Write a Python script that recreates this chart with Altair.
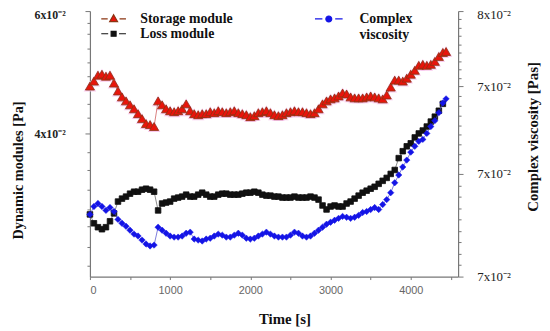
import altair as alt
import pandas as pd
import numpy as np

# ---------------- data ----------------
time_s = list(range(0, 4401, 50))

storage_mod = [4.774, 4.855, 4.952, 4.968, 4.935, 4.952, 4.823, 4.694, 4.597, 4.532,
               4.468, 4.403, 4.323, 4.242, 4.161, 4.145, 4.113, 4.532, 4.468, 4.403,
               4.371, 4.355, 4.371, 4.403, 4.484, 4.371, 4.323, 4.306, 4.323, 4.323,
               4.355, 4.339, 4.371, 4.355, 4.339, 4.355, 4.371, 4.339, 4.323, 4.306,
               4.274, 4.290, 4.339, 4.355, 4.371, 4.339, 4.306, 4.290, 4.306, 4.339,
               4.355, 4.371, 4.355, 4.355, 4.339, 4.323, 4.339, 4.403, 4.484, 4.532,
               4.565, 4.581, 4.613, 4.661, 4.645, 4.597, 4.581, 4.581, 4.581, 4.597,
               4.613, 4.597, 4.581, 4.565, 4.629, 4.758, 4.871, 4.871, 4.855, 4.903,
               4.968, 5.032, 5.113, 5.129, 5.113, 5.129, 5.177, 5.258, 5.323, 5.339]
storage_t = time_s + [4440]

loss_mod = [2.677, 2.532, 2.468, 2.435, 2.468, 2.565, 2.694, 2.887, 2.935, 2.968,
            3.016, 3.048, 3.048, 3.081, 3.097, 3.081, 3.048, 2.742, 2.855, 2.871,
            2.887, 2.935, 2.952, 2.968, 3.000, 2.968, 2.968, 3.000, 3.032, 3.000,
            2.968, 2.968, 3.000, 3.016, 3.016, 3.000, 3.000, 3.000, 3.016, 3.032,
            3.032, 3.048, 3.032, 3.000, 2.984, 2.984, 2.968, 2.968, 2.952, 2.952,
            2.952, 2.968, 2.952, 2.952, 2.952, 2.968, 2.952, 2.919, 2.823, 2.758,
            2.806, 2.823, 2.806, 2.806, 2.855, 2.887, 2.935, 2.984, 3.032, 3.065,
            3.097, 3.129, 3.177, 3.226, 3.274, 3.339, 3.403, 3.597, 3.710, 3.790,
            3.839, 3.935, 4.000, 4.048, 4.113, 4.194, 4.274, 4.371, 4.484]
loss_t = time_s

complex_visc = [6.851, 6.896, 6.913, 6.896, 6.874, 6.890, 6.868, 6.823, 6.801, 6.784,
                6.762, 6.740, 6.729, 6.706, 6.684, 6.673, 6.678, 6.779, 6.762, 6.745,
                6.729, 6.723, 6.723, 6.729, 6.745, 6.751, 6.712, 6.706, 6.701, 6.712,
                6.717, 6.729, 6.740, 6.734, 6.723, 6.723, 6.734, 6.745, 6.734, 6.717,
                6.712, 6.717, 6.729, 6.740, 6.751, 6.740, 6.729, 6.723, 6.723, 6.723,
                6.734, 6.751, 6.745, 6.729, 6.723, 6.729, 6.745, 6.762, 6.779, 6.796,
                6.807, 6.818, 6.829, 6.840, 6.835, 6.829, 6.835, 6.846, 6.862, 6.868,
                6.879, 6.890, 6.879, 6.907, 6.935, 6.974, 7.030, 7.074, 7.119, 7.158,
                7.203, 7.236, 7.264, 7.275, 7.309, 7.348, 7.381, 7.426, 7.481, 7.504]
visc_t = time_s + [4440]

series_names = ["Storage module", "Loss module", "Complex viscosity"]

x_ticks = list(range(0, 4501, 500))
left_ticks = [6.0, 5.806, 5.629, 5.387, 5.161, 4.935, 4.710, 4.484, 4.258, 4.0,
              3.694, 3.403, 3.081, 2.758, 2.484, 2.145, 1.839]
right_major = [8.0, 7.576, 7.08, 6.5]

# ---------------- table ----------------
rows = []
for name, ts, vs in [(series_names[0], storage_t, storage_mod),
                     (series_names[1], loss_t, loss_mod),
                     (series_names[2], visc_t, complex_visc)]:
    for t, v in zip(ts, vs):
        rows.append({"t": t, "v": v, "series": name})
df = pd.DataFrame(rows)

right_ticks = sorted(set(np.round(np.concatenate(
    [np.linspace(a, b, 10) for a, b in zip(right_major[:-1], right_major[1:])]), 4).tolist()))

SERIF = "Liberation Serif"
SANS = "Liberation Sans"
SUP = "x10\u207b\u00b2"

RED = "#e8140c"
RED_EDGE = "#8a3412"
BLACK = "#111111"
BLUE = "#1414e6"

TRI = "M-2.5,0H-1.2M1.2,0H2.5M0,-0.85L0.8,0.55H-0.8Z"
SQ = "M-2.5,0H-1.1M1.1,0H2.5M-0.5,-0.5H0.5V0.5H-0.5Z"
CIRC = "M-2.8,0H-1.3M1.3,0H2.8M-0.6,0A0.6,0.6 0 1,0 0.6,0A0.6,0.6 0 1,0 -0.6,0Z"

# ---------------- axes ----------------
x_axis = alt.Axis(values=x_ticks, format="d",
                  labelExpr="datum.value % 1000 == 0 ? datum.label : ''",
                  grid=False, tickSize=3, tickColor="#777", domainColor="#777",
                  domainWidth=1.2, labelFont=SANS, labelFontSize=11, labelColor="#666",
                  labelPadding=5, title="Time [s]", titleFont=SERIF, titleFontSize=15,
                  titleFontWeight="bold", titleColor="#111", titleX=197, titleY=43,
                  titleBaseline="middle", titleAlign="center")

x_enc = alt.X("t:Q", scale=alt.Scale(domain=[0, 4590], nice=False, zero=False), axis=x_axis)

left_axis = alt.Axis(values=left_ticks, grid=False,
                     labelExpr=f"datum.value == 6 ? '6{SUP}' : (datum.value == 4 ? '4{SUP}' : '')",
                     tickSize={"condition": {"test": "datum.value == 6 || datum.value == 4", "value": 5}, "value": 3},
                     labelOffset={"condition": {"test": "datum.value == 6", "value": 4}, "value": 0},
                     tickColor="#777", domainColor="#777", domainWidth=1.2,
                     labelFont=SERIF, labelFontSize=12, labelFontWeight="bold", labelColor="#222",
                     labelPadding=20,
                     title="Dynamic modules [Pa]", titleFont=SERIF, titleFontSize=14.5,
                     titleFontWeight="bold", titleColor="#111", titleAngle=270,
                     titleX=-72, titleY=161, titleAlign="center", titleBaseline="middle")

y_left = alt.Y("v:Q", scale=alt.Scale(domain=[1.661, 6.0], nice=False, zero=False), axis=left_axis)

MAJ_R = "(datum.value > 7.99 || abs(datum.value - 7.576) < 0.001 || abs(datum.value - 7.08) < 0.001 || abs(datum.value - 6.5) < 0.001)"
right_axis = alt.Axis(values=right_ticks, grid=False, orient="right",
                      labelExpr=("datum.value > 7.99 ? '8" + SUP + "' : (" + MAJ_R + " ? '7" + SUP + "' : '')"),
                      tickSize={"condition": {"test": MAJ_R, "value": 5}, "value": 3},
                      labelOffset={"condition": {"test": "datum.value > 7.99", "value": 4}, "value": 0},
                      tickColor="#777", domainColor="#777", domainWidth=1.2,
                      labelFont=SERIF, labelFontSize=13, labelColor="#222", labelPadding=14,
                      title="Complex viscosity [Pas]", titleFont=SERIF, titleFontSize=15,
                      titleFontWeight="bold", titleColor="#111", titleAngle=270,
                      titleX=75, titleY=127, titleAlign="center", titleBaseline="middle")

y_right = alt.Y("v:Q", scale=alt.Scale(domain=[6.5, 8.0], nice=False, zero=False), axis=right_axis)


def make_legend(x, y, symbol, offset, label_expr=None):
    kw = dict(title=None, orient="none", legendX=x, legendY=y, padding=0, offset=0,
              labelFont=SERIF, labelFontSize=14, labelFontWeight="bold", labelColor="#111",
              labelOffset=offset, symbolSize=100, symbolType=symbol, symbolStrokeWidth=1.2,
              symbolOpacity=1)
    if label_expr:
        kw["labelExpr"] = label_expr
    return alt.Legend(**kw)


base = alt.Chart(df)


def only(name):
    return base.transform_filter(alt.datum.series == name)


halo = only(series_names[0]).mark_point(
    shape="triangle-up", filled=True, size=160, color="#f8c4ec", opacity=0.9
).encode(x=x_enc, y=y_left)

line_st = only(series_names[0]).mark_line(strokeWidth=0.7, color="#c84848").encode(x=x_enc, y=y_left)
line_lo = only(series_names[1]).mark_line(strokeWidth=0.7, color="#555555").encode(x=x_enc, y=y_left)

pts_st = only(series_names[0]).mark_point(
    filled=True, shape="triangle-up", size=85, stroke=RED_EDGE, strokeWidth=0.8, opacity=1
).encode(x=x_enc, y=y_left,
         fill=alt.Fill("series:N", scale=alt.Scale(domain=[series_names[0]], range=[RED]),
                       legend=make_legend(17, 1, TRI, 20)))

pts_lo = only(series_names[1]).mark_point(
    filled=True, shape="square", size=32, stroke=BLACK, strokeWidth=0.8, opacity=1
).encode(x=x_enc, y=y_left,
         fill=alt.Fill("series:N", scale=alt.Scale(domain=[series_names[1]], range=[BLACK]),
                       legend=make_legend(17, 16, SQ, 20)))

left = alt.layer(halo, line_st, line_lo, pts_st, pts_lo).resolve_scale(fill="independent")

line_vi = only(series_names[2]).mark_line(strokeWidth=0.7, color="#4444cc").encode(x=x_enc, y=y_right)
pts_vi = only(series_names[2]).mark_point(
    filled=True, shape="diamond", size=42, stroke=BLUE, strokeWidth=0.5, opacity=1
).encode(x=x_enc, y=y_right,
         fill=alt.Fill("series:N", scale=alt.Scale(domain=[series_names[2]], range=[BLUE]),
                       legend=make_legend(235, 1, CIRC, 24, "['Complex', 'viscosity']")))
right = alt.layer(line_vi, pts_vi)

chart = alt.layer(left, right).resolve_scale(
    y="independent", fill="independent"
).properties(
    width=373, height=269,
    padding={"left": 83, "top": 1, "right": 85, "bottom": 52},
    autosize=alt.AutoSizeParams(type="none"),
    background="white",
).configure_view(stroke=None)

chart.save("out.html", embed_options={"renderer": "svg", "actions": False})
